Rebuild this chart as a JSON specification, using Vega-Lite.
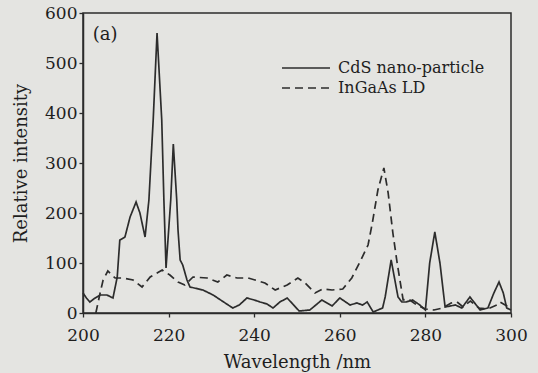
{
  "$schema": "https://vega.github.io/schema/vega-lite/v6.json",
  "width": 428,
  "height": 300,
  "autosize": "none",
  "padding": {"left": 83, "top": 13, "right": 27, "bottom": 60},
  "background": "#e4e4e1",
  "config": {
    "font": "DejaVu Serif",
    "view": {"stroke": "#2b2b2b", "strokeWidth": 1.5},
    "axis": {"grid": false, "domainColor": "#2b2b2b", "domainWidth": 1.5, "tickColor": "#2b2b2b", "tickWidth": 1.3, "tickSize": 4, "labelColor": "#1e1e1e", "titleColor": "#1e1e1e", "labelFontSize": 17, "titleFontSize": 18, "titleFontWeight": "normal", "labelFont": "DejaVu Serif", "titleFont": "DejaVu Serif", "labelFlush": false}
  },
  "datasets": {
    "spectra": [
      {"series": "CdS nano-particle", "wavelength": 200, "intensity": 40},
      {"series": "CdS nano-particle", "wavelength": 200.8, "intensity": 30},
      {"series": "CdS nano-particle", "wavelength": 201.6, "intensity": 22},
      {"series": "CdS nano-particle", "wavelength": 202.5, "intensity": 28},
      {"series": "CdS nano-particle", "wavelength": 204, "intensity": 36},
      {"series": "CdS nano-particle", "wavelength": 205.6, "intensity": 36},
      {"series": "CdS nano-particle", "wavelength": 207, "intensity": 30},
      {"series": "CdS nano-particle", "wavelength": 208, "intensity": 72},
      {"series": "CdS nano-particle", "wavelength": 208.6, "intensity": 146},
      {"series": "CdS nano-particle", "wavelength": 209.8, "intensity": 152},
      {"series": "CdS nano-particle", "wavelength": 211, "intensity": 192},
      {"series": "CdS nano-particle", "wavelength": 212.4, "intensity": 222},
      {"series": "CdS nano-particle", "wavelength": 213.3, "intensity": 200},
      {"series": "CdS nano-particle", "wavelength": 214.5, "intensity": 152},
      {"series": "CdS nano-particle", "wavelength": 215.4, "intensity": 226},
      {"series": "CdS nano-particle", "wavelength": 216.4, "intensity": 386},
      {"series": "CdS nano-particle", "wavelength": 217.3, "intensity": 560},
      {"series": "CdS nano-particle", "wavelength": 218.4, "intensity": 386},
      {"series": "CdS nano-particle", "wavelength": 218.9, "intensity": 226},
      {"series": "CdS nano-particle", "wavelength": 219.4, "intensity": 90},
      {"series": "CdS nano-particle", "wavelength": 220.5, "intensity": 226},
      {"series": "CdS nano-particle", "wavelength": 221.1, "intensity": 338},
      {"series": "CdS nano-particle", "wavelength": 221.9, "intensity": 226},
      {"series": "CdS nano-particle", "wavelength": 222.2, "intensity": 166},
      {"series": "CdS nano-particle", "wavelength": 222.7, "intensity": 106},
      {"series": "CdS nano-particle", "wavelength": 223.3, "intensity": 96},
      {"series": "CdS nano-particle", "wavelength": 224.3, "intensity": 66},
      {"series": "CdS nano-particle", "wavelength": 225, "intensity": 52},
      {"series": "CdS nano-particle", "wavelength": 228, "intensity": 46},
      {"series": "CdS nano-particle", "wavelength": 230.4, "intensity": 36},
      {"series": "CdS nano-particle", "wavelength": 232.5, "intensity": 24},
      {"series": "CdS nano-particle", "wavelength": 235, "intensity": 10},
      {"series": "CdS nano-particle", "wavelength": 236.5, "intensity": 16},
      {"series": "CdS nano-particle", "wavelength": 238.3, "intensity": 30},
      {"series": "CdS nano-particle", "wavelength": 240, "intensity": 26},
      {"series": "CdS nano-particle", "wavelength": 241.4, "intensity": 22},
      {"series": "CdS nano-particle", "wavelength": 243, "intensity": 18},
      {"series": "CdS nano-particle", "wavelength": 244.4, "intensity": 10},
      {"series": "CdS nano-particle", "wavelength": 246, "intensity": 22},
      {"series": "CdS nano-particle", "wavelength": 247.7, "intensity": 30},
      {"series": "CdS nano-particle", "wavelength": 249, "intensity": 18},
      {"series": "CdS nano-particle", "wavelength": 250.5, "intensity": 4},
      {"series": "CdS nano-particle", "wavelength": 253, "intensity": 6},
      {"series": "CdS nano-particle", "wavelength": 255.8, "intensity": 26},
      {"series": "CdS nano-particle", "wavelength": 258.2, "intensity": 14},
      {"series": "CdS nano-particle", "wavelength": 260, "intensity": 30},
      {"series": "CdS nano-particle", "wavelength": 262.4, "intensity": 16},
      {"series": "CdS nano-particle", "wavelength": 264, "intensity": 20},
      {"series": "CdS nano-particle", "wavelength": 265.3, "intensity": 16},
      {"series": "CdS nano-particle", "wavelength": 266.4, "intensity": 22},
      {"series": "CdS nano-particle", "wavelength": 267.8, "intensity": 2},
      {"series": "CdS nano-particle", "wavelength": 270, "intensity": 10},
      {"series": "CdS nano-particle", "wavelength": 270.6, "intensity": 32},
      {"series": "CdS nano-particle", "wavelength": 272, "intensity": 106},
      {"series": "CdS nano-particle", "wavelength": 273.6, "intensity": 32},
      {"series": "CdS nano-particle", "wavelength": 274.5, "intensity": 22},
      {"series": "CdS nano-particle", "wavelength": 275.5, "intensity": 22},
      {"series": "CdS nano-particle", "wavelength": 277, "intensity": 26},
      {"series": "CdS nano-particle", "wavelength": 278.7, "intensity": 16},
      {"series": "CdS nano-particle", "wavelength": 280, "intensity": 6},
      {"series": "CdS nano-particle", "wavelength": 281, "intensity": 100},
      {"series": "CdS nano-particle", "wavelength": 282.2, "intensity": 162},
      {"series": "CdS nano-particle", "wavelength": 283.4, "intensity": 100},
      {"series": "CdS nano-particle", "wavelength": 284.6, "intensity": 12},
      {"series": "CdS nano-particle", "wavelength": 287, "intensity": 16},
      {"series": "CdS nano-particle", "wavelength": 288.5, "intensity": 10},
      {"series": "CdS nano-particle", "wavelength": 290.4, "intensity": 32},
      {"series": "CdS nano-particle", "wavelength": 292.8, "intensity": 6},
      {"series": "CdS nano-particle", "wavelength": 294.6, "intensity": 10},
      {"series": "CdS nano-particle", "wavelength": 296, "intensity": 40},
      {"series": "CdS nano-particle", "wavelength": 297.2, "intensity": 62},
      {"series": "CdS nano-particle", "wavelength": 298.2, "intensity": 40},
      {"series": "CdS nano-particle", "wavelength": 299, "intensity": 10},
      {"series": "CdS nano-particle", "wavelength": 300, "intensity": 6},
      {"series": "InGaAs LD", "wavelength": 203, "intensity": 0},
      {"series": "InGaAs LD", "wavelength": 204, "intensity": 40},
      {"series": "InGaAs LD", "wavelength": 204.7, "intensity": 66},
      {"series": "InGaAs LD", "wavelength": 205.8, "intensity": 84},
      {"series": "InGaAs LD", "wavelength": 207.5, "intensity": 70},
      {"series": "InGaAs LD", "wavelength": 209.3, "intensity": 70},
      {"series": "InGaAs LD", "wavelength": 211.7, "intensity": 66},
      {"series": "InGaAs LD", "wavelength": 213.8, "intensity": 52},
      {"series": "InGaAs LD", "wavelength": 215.7, "intensity": 72},
      {"series": "InGaAs LD", "wavelength": 218.5, "intensity": 86},
      {"series": "InGaAs LD", "wavelength": 220.3, "intensity": 76},
      {"series": "InGaAs LD", "wavelength": 222.2, "intensity": 62},
      {"series": "InGaAs LD", "wavelength": 223.8, "intensity": 56},
      {"series": "InGaAs LD", "wavelength": 225.7, "intensity": 72},
      {"series": "InGaAs LD", "wavelength": 229, "intensity": 70},
      {"series": "InGaAs LD", "wavelength": 231.5, "intensity": 62},
      {"series": "InGaAs LD", "wavelength": 233.6, "intensity": 76},
      {"series": "InGaAs LD", "wavelength": 236, "intensity": 70},
      {"series": "InGaAs LD", "wavelength": 238.6, "intensity": 70},
      {"series": "InGaAs LD", "wavelength": 242.5, "intensity": 60},
      {"series": "InGaAs LD", "wavelength": 244.9, "intensity": 46},
      {"series": "InGaAs LD", "wavelength": 247.7, "intensity": 56},
      {"series": "InGaAs LD", "wavelength": 250.2, "intensity": 70},
      {"series": "InGaAs LD", "wavelength": 251.9, "intensity": 60},
      {"series": "InGaAs LD", "wavelength": 254.2, "intensity": 40},
      {"series": "InGaAs LD", "wavelength": 256, "intensity": 48},
      {"series": "InGaAs LD", "wavelength": 258.2, "intensity": 46},
      {"series": "InGaAs LD", "wavelength": 260.7, "intensity": 48},
      {"series": "InGaAs LD", "wavelength": 262.8, "intensity": 70},
      {"series": "InGaAs LD", "wavelength": 264.7, "intensity": 102},
      {"series": "InGaAs LD", "wavelength": 266.6, "intensity": 136},
      {"series": "InGaAs LD", "wavelength": 267.6, "intensity": 180},
      {"series": "InGaAs LD", "wavelength": 268.9, "intensity": 246},
      {"series": "InGaAs LD", "wavelength": 270.3, "intensity": 290},
      {"series": "InGaAs LD", "wavelength": 271.3, "intensity": 240},
      {"series": "InGaAs LD", "wavelength": 272.4, "intensity": 160},
      {"series": "InGaAs LD", "wavelength": 273.4, "intensity": 100},
      {"series": "InGaAs LD", "wavelength": 274.8, "intensity": 26},
      {"series": "InGaAs LD", "wavelength": 276, "intensity": 28},
      {"series": "InGaAs LD", "wavelength": 278, "intensity": 16},
      {"series": "InGaAs LD", "wavelength": 280, "intensity": 8},
      {"series": "InGaAs LD", "wavelength": 282, "intensity": 6},
      {"series": "InGaAs LD", "wavelength": 284, "intensity": 10},
      {"series": "InGaAs LD", "wavelength": 286, "intensity": 20},
      {"series": "InGaAs LD", "wavelength": 287.4, "intensity": 22},
      {"series": "InGaAs LD", "wavelength": 288.8, "intensity": 12},
      {"series": "InGaAs LD", "wavelength": 290.5, "intensity": 24},
      {"series": "InGaAs LD", "wavelength": 292.5, "intensity": 10},
      {"series": "InGaAs LD", "wavelength": 294.5, "intensity": 8},
      {"series": "InGaAs LD", "wavelength": 296.7, "intensity": 16},
      {"series": "InGaAs LD", "wavelength": 297.4, "intensity": 22},
      {"series": "InGaAs LD", "wavelength": 299.8, "intensity": 10}
    ],
    "panel": [{"label": "(a)"}]
  },
  "layer": [
    {
      "data": {"name": "spectra"},
      "mark": {"type": "line", "color": "#2c2c2c", "strokeWidth": 1.7},
      "encoding": {
        "x": {"field": "wavelength", "type": "quantitative", "scale": {"domain": [200, 300], "nice": false}, "axis": {"values": [200, 220, 240, 260, 280, 300], "title": "Wavelength /nm", "labelPadding": 10, "titlePadding": 10}},
        "y": {"field": "intensity", "type": "quantitative", "scale": {"domain": [0, 600], "nice": false}, "axis": {"values": [0, 100, 200, 300, 400, 500, 600], "title": "Relative intensity", "labelPadding": 2, "titlePadding": 14}},
        "strokeDash": {"field": "series", "type": "nominal", "scale": {"domain": ["CdS nano-particle", "InGaAs LD"], "range": [[1, 0], [8, 5]]}, "legend": {"title": null, "orient": "none", "legendX": 214, "legendY": 46, "labelFontSize": 16, "labelFont": "DejaVu Serif", "labelColor": "#1e1e1e", "symbolType": "M-3,0H3", "symbolSize": 256, "symbolStrokeWidth": 1.7, "symbolStrokeColor": "#2c2c2c", "symbolFillColor": "transparent", "labelOffset": 23, "rowPadding": 3}}
      }
    },
    {
      "data": {"name": "panel"},
      "mark": {"type": "text", "align": "left", "baseline": "middle", "fontSize": 18, "font": "DejaVu Serif", "color": "#1e1e1e"},
      "encoding": {
        "x": {"datum": 202.3},
        "y": {"datum": 556},
        "text": {"field": "label"}
      }
    }
  ]
}
